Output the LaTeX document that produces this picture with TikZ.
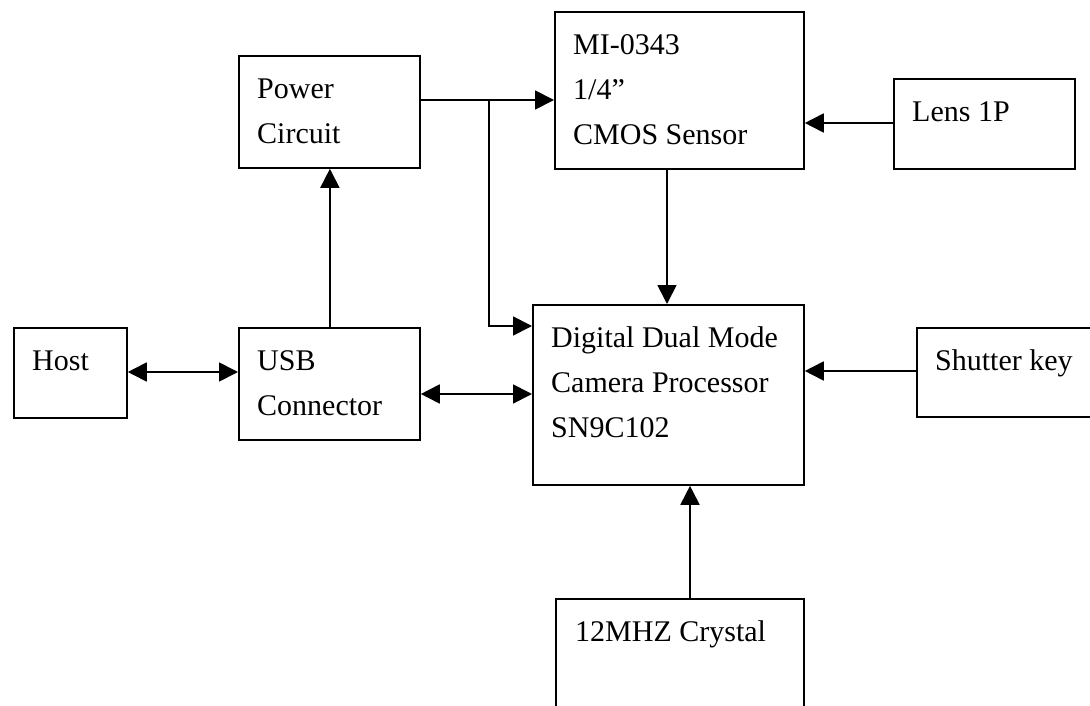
\documentclass[tikz,border=0pt]{standalone}
\usepackage{fontspec}
\setmainfont{Liberation Serif}
\usetikzlibrary{arrows.meta,calc}
\begin{document}
\begin{tikzpicture}[x=1pt,y=-1pt,
  blk/.style={draw, line width=1.8pt, inner sep=0pt, anchor=north west},
  txt/.style={anchor=base west, align=left, inner sep=0pt, font=\fontsize{30}{45}\selectfont},
  arr/.style={line width=1.8pt, -{Triangle[length=19pt,width=19pt]}},
  darr/.style={line width=1.8pt, {Triangle[length=19pt,width=19pt]}-{Triangle[length=19pt,width=19pt]}}]
\useasboundingbox (0,0) rectangle (1090,706);
\clip (0,0) rectangle (1090,706);
% boxes
\node[blk, minimum width=181pt, minimum height=112pt] (power) at (238,55) {};
\node[blk, minimum width=249pt, minimum height=157pt] (cmos) at (554,11) {};
\node[blk, minimum width=181pt, minimum height=90pt] (lens) at (893,78) {};
\node[blk, minimum width=113pt, minimum height=90pt] (host) at (13,327) {};
\node[blk, minimum width=181pt, minimum height=112pt] (usb) at (238,327) {};
\node[blk, minimum width=271pt, minimum height=180pt] (digital) at (532,304) {};
\node[blk, minimum width=190pt, minimum height=89pt] (shutter) at (916,327) {};
\node[blk, minimum width=248pt, minimum height=130pt] (crystal) at (555,598) {};
% texts (anchored at the baseline of the last line)
\node[txt] (powerT) at ($(power.north west)+(19,88.5)$) {Power\\Circuit};
\node[txt] (cmosT) at ($(cmos.north west)+(19,133.5)$) {MI-0343\\1/4”\\CMOS Sensor};
\node[txt] (lensT) at ($(lens.north west)+(19,43.5)$) {Lens 1P};
\node[txt] (hostT) at ($(host.north west)+(19,43.5)$) {Host};
\node[txt] (usbT) at ($(usb.north west)+(19,88.5)$) {USB\\Connector};
\node[txt] (digitalT) at ($(digital.north west)+(19,133.5)$) {Digital Dual Mode\\Camera Processor\\SN9C102};
\node[txt] (shutterT) at ($(shutter.north west)+(19,43.5)$) {Shutter key};
\node[txt] (crystalT) at ($(crystal.north west)+(20,43.5)$) {12MHZ Crystal};
% connectors
\draw[arr] ($(power.north east)+(0,45)$) -- ($(cmos.north west)+(0,89)$);
\coordinate (br) at ($(power.north east)+(68,45)$);
\draw[arr] (br) |- ($(digital.north west)+(0,22)$);
\draw[arr] ($(usb.north)+(0.5,0)$) -- ($(power.south)+(0.5,0)$);
\draw[darr] ($(host.north east)+(0,45)$) -- ($(usb.north west)+(0,45)$);
\draw[darr] ($(usb.north east)+(0,67)$) -- ($(digital.north west)+(0,90)$);
\draw[arr] ($(cmos.south west)+(113,0)$) -- ($(digital.north west)+(135,0)$);
\draw[arr] ($(lens.north west)+(0,45)$) -- ($(cmos.north east)+(0,112)$);
\draw[arr] ($(shutter.north west)+(0,44)$) -- ($(digital.north east)+(0,67)$);
\draw[arr] ($(crystal.north west)+(135,0)$) -- ($(digital.south west)+(158,0)$);
\end{tikzpicture}
\end{document}
